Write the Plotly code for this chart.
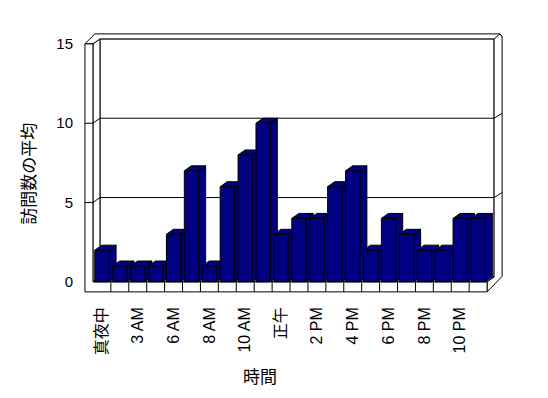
import plotly.graph_objects as go

# ---- data ----
hours = ['真夜中', '1 AM', '3 AM', '5 AM', '6 AM', '7 AM', '8 AM', '9 AM',
         '10 AM', '11 AM', '正午', '1 PM', '2 PM', '3 PM', '4 PM', '5 PM',
         '6 PM', '7 PM', '8 PM', '9 PM', '10 PM', '11 PM']
visits = [2, 1, 1, 1, 3, 7, 1, 6, 8, 10, 3, 4, 4, 6, 7, 2, 4, 3, 2, 2, 4, 4]
y_ticks = [0, 5, 10, 15]
y_title = '訪問数の平均'
x_title = '時間'

NAVY = '#000080'
FONT = 'Liberation Sans, Noto Sans CJK JP, sans-serif'

n = len(visits)
idx = list(range(n))
BW = 0.8          # bar width (category units)
DX, DY = 0.391, 0.315   # depth offset (axis units)
YMAX = y_ticks[-1]
XL, XR = -0.5, n - 0.5  # inner front extent of floor
WALL = 0.447      # wall front strip width
FLOOR = 0.63      # floor front strip thickness


def path(pts, close=True):
    s = 'M ' + ' L '.join(f'{x:.4f},{y:.4f}' for x, y in pts)
    return s + (' Z' if close else '')


shapes = []
line = dict(color='black', width=1)

# back wall inner face
shapes.append(dict(type='path', path=path([(XL + DX, DY), (XL + DX, YMAX + DY),
                                            (XR + DX, YMAX + DY), (XR + DX, DY)]),
                   fillcolor='white', line=line, layer='below'))
# left wall inner face
shapes.append(dict(type='path', path=path([(XL, 0), (XL, YMAX), (XL + DX, YMAX + DY), (XL + DX, DY)]),
                   fillcolor='white', line=line, layer='below'))
# top surface of walls
shapes.append(dict(type='path', path=path([(XL - WALL, YMAX), (XL + 0.1, YMAX + 2 * DY),
                                            (XR + 0.72, YMAX + 2 * DY), (XR + 0.84, YMAX + 1.4 * DY),
                                            (XR + DX, YMAX + DY), (XL + DX, YMAX + DY), (XL, YMAX)]),
                   fillcolor='white', line=line, layer='below'))
# right side of back wall
shapes.append(dict(type='path', path=path([(XR + DX, YMAX + DY), (XR + 0.72, YMAX + 2 * DY),
                                            (XR + 0.84, YMAX + 1.4 * DY), (XR + 0.84, 0.35),
                                            (XR, -FLOOR), (XR, 0), (XR + DX, DY)]),
                   fillcolor='white', line=line, layer='below'))
# floor top
shapes.append(dict(type='path', path=path([(XL, 0), (XR, 0), (XR + DX, DY), (XL + DX, DY)]),
                   fillcolor='white', line=line, layer='below'))
# left wall + floor front strips (L shape)
shapes.append(dict(type='path', path=path([(XL - WALL, YMAX), (XL, YMAX), (XL, 0), (XR, 0),
                                            (XR, -FLOOR), (XL - WALL, -FLOOR)]),
                   fillcolor='white', line=line, layer='below'))
# gridlines / tick marks
for v in y_ticks[1:-1]:
    shapes.append(dict(type='path', path=path([(XL - WALL, v), (XL, v), (XL + DX, v + DY),
                                                (XR + DX, v + DY), (XR + 0.84, v + 2 * DY)], close=False),
                       line=line, layer='below'))
# category dividers on floor front strip
for i in idx[:-1]:
    shapes.append(dict(type='line', x0=i + 0.5, x1=i + 0.5, y0=0, y1=-FLOOR,
                       line=line, layer='below'))

# bar tops and sides
for i, v in zip(idx, visits):
    top = path([(i - BW / 2, v), (i - BW / 2 + DX, v + DY), (i + BW / 2 + DX, v + DY), (i + BW / 2, v)])
    side = path([(i + BW / 2, 0), (i + BW / 2, v), (i + BW / 2 + DX, v + DY), (i + BW / 2 + DX, DY)])
    shapes.append(dict(type='path', path=top + ' ' + side, fillcolor=NAVY, line=line, layer='below'))

fig = go.Figure()
fig.add_trace(go.Bar(x=idx, y=visits, width=BW, marker=dict(color=NAVY, line=dict(color='black', width=1)),
                     hovertext=hours, showlegend=False))

fig.update_layout(
    width=540, height=390,
    margin=dict(l=76, r=43, t=24, b=105),
    paper_bgcolor='white', plot_bgcolor='white',
    font=dict(family=FONT, size=15, color='black'),
    shapes=shapes,
    xaxis=dict(range=[-1.0, 22.5], tickmode='array', tickvals=idx[::2], ticktext=hours[::2],
               tickangle=-90, showgrid=False, zeroline=False, showline=False, ticks='',
               tickfont=dict(size=16), ticklabelstandoff=10, fixedrange=True),
    yaxis=dict(range=[-0.7, 15.75], tickmode='array', tickvals=y_ticks,
               showgrid=False, zeroline=False, showline=False, ticks='',
               tickfont=dict(size=15), ticklabelstandoff=10, fixedrange=True),
    annotations=[
        dict(text=y_title, textangle=-90, xref='paper', yref='y', x=-0.131, y=6.8,
             xanchor='center', yanchor='middle', showarrow=False, font=dict(size=17)),
        dict(text=x_title, xref='x', yref='paper', x=8.82, y=-0.322,
             xanchor='center', yanchor='middle', showarrow=False, font=dict(size=17)),
    ],
)

fig.write_html('out.html')
